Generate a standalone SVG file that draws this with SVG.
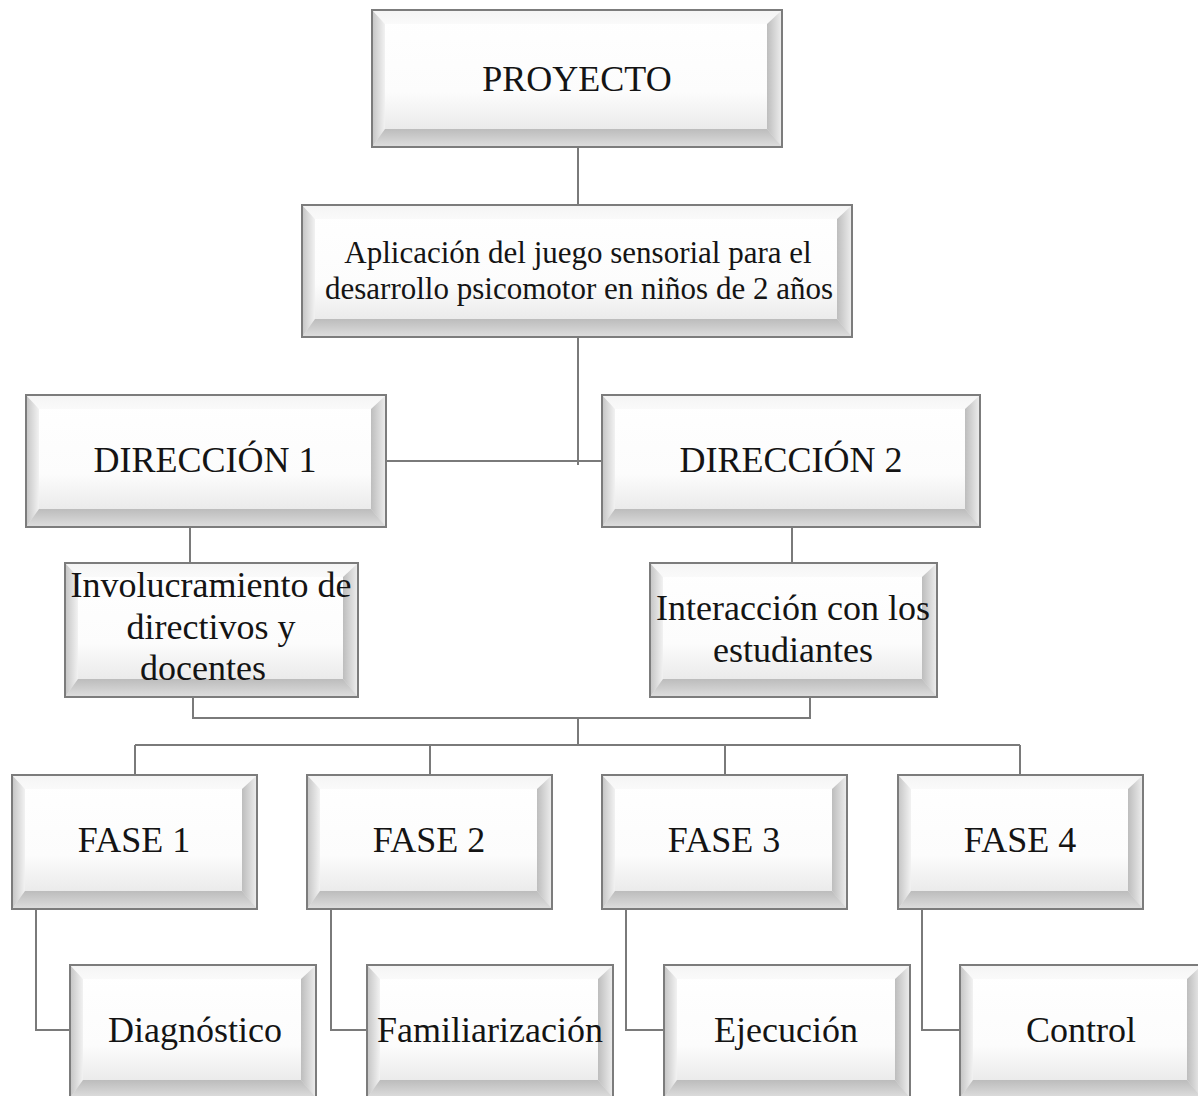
<svg xmlns="http://www.w3.org/2000/svg" width="1198" height="1096" viewBox="0 0 1198 1096">
<defs>
<linearGradient id="gFace" x1="0" y1="0" x2="0" y2="1">
<stop offset="0" stop-color="#ffffff"/>
<stop offset="0.6" stop-color="#fcfcfc"/>
<stop offset="1" stop-color="#e2e2e2"/>
</linearGradient>
<linearGradient id="gTop" x1="0" y1="0" x2="0" y2="1">
<stop offset="0" stop-color="#f4f4f4"/>
<stop offset="1" stop-color="#fafafa"/>
</linearGradient>
<linearGradient id="gLeft" x1="0" y1="0" x2="1" y2="0">
<stop offset="0" stop-color="#c4c4c4"/>
<stop offset="1" stop-color="#f2f2f2"/>
</linearGradient>
<linearGradient id="gRight" x1="0" y1="0" x2="1" y2="0">
<stop offset="0" stop-color="#bdbdbd"/>
<stop offset="1" stop-color="#eeeeee"/>
</linearGradient>
<linearGradient id="gBottom" x1="0" y1="0" x2="0" y2="1">
<stop offset="0" stop-color="#bcbcbc"/>
<stop offset="1" stop-color="#dedede"/>
</linearGradient>
</defs>
<style>
.face{fill:url(#gFace)}
.bt{fill:url(#gTop)}
.bl{fill:url(#gLeft)}
.br{fill:url(#gRight)}
.bb{fill:url(#gBottom)}
.frame{fill:none;stroke:#7c7c7c;stroke-width:2}
.lbl{font-family:"Liberation Serif","Times New Roman",serif;fill:#141414;text-anchor:middle}
.big{font-size:36px}
.mid{font-size:31px}
.conn{fill:none;stroke:#7a7a7a;stroke-width:2}
</style>
<rect width="1198" height="1096" fill="#ffffff"/>

<g id="connectors">
<path class="conn" d="M578,147 V205"/>
<path class="conn" d="M578,337 V465"/>
<path class="conn" d="M386,461 H602"/>
<path class="conn" d="M190,527 V563"/>
<path class="conn" d="M792,527 V563"/>
<path class="conn" d="M193,697 V718 H810 V697"/>
<path class="conn" d="M578,718 V745"/>
<path class="conn" d="M135,745 H1020"/>
<path class="conn" d="M135,745 V775 M430,745 V775 M725,745 V775 M1020,745 V775"/>
<path class="conn" d="M36,909 V1030 H70"/>
<path class="conn" d="M331,909 V1030 H367"/>
<path class="conn" d="M626,909 V1030 H664"/>
<path class="conn" d="M922,909 V1030 H960"/>
</g>

<g id="proyecto">
<rect class="face" x="372" y="10" width="410" height="137"/>
<polygon class="bt" points="372,10 782,10 767,24 385,24"/>
<polygon class="bl" points="372,10 385,24 385,129 372,147"/>
<polygon class="br" points="767,24 782,10 782,147 767,129"/>
<polygon class="bb" points="385,129 767,129 782,147 372,147"/>
<rect class="frame" x="372" y="10" width="410" height="137"/>
<text class="lbl big" x="577" y="91">PROYECTO</text>
</g>

<g id="aplicacion">
<rect class="face" x="302" y="205" width="550" height="132"/>
<polygon class="bt" points="302,205 852,205 837,219 315,219"/>
<polygon class="bl" points="302,205 315,219 315,319 302,337"/>
<polygon class="br" points="837,219 852,205 852,337 837,319"/>
<polygon class="bb" points="315,319 837,319 852,337 302,337"/>
<rect class="frame" x="302" y="205" width="550" height="132"/>
<text class="lbl mid" x="578" y="263">Aplicación del juego sensorial para el</text>
<text class="lbl mid" x="579" y="299">desarrollo psicomotor en niños de 2 años</text>
</g>

<g id="direccion1">
<rect class="face" x="26" y="395" width="360" height="132"/>
<polygon class="bt" points="26,395 386,395 371,409 39,409"/>
<polygon class="bl" points="26,395 39,409 39,509 26,527"/>
<polygon class="br" points="371,409 386,395 386,527 371,509"/>
<polygon class="bb" points="39,509 371,509 386,527 26,527"/>
<rect class="frame" x="26" y="395" width="360" height="132"/>
<text class="lbl big" x="205" y="472">DIRECCIÓN 1</text>
</g>

<g id="direccion2">
<rect class="face" x="602" y="395" width="378" height="132"/>
<polygon class="bt" points="602,395 980,395 965,409 615,409"/>
<polygon class="bl" points="602,395 615,409 615,509 602,527"/>
<polygon class="br" points="965,409 980,395 980,527 965,509"/>
<polygon class="bb" points="615,509 965,509 980,527 602,527"/>
<rect class="frame" x="602" y="395" width="378" height="132"/>
<text class="lbl big" x="791" y="472">DIRECCIÓN 2</text>
</g>

<g id="involucramiento">
<rect class="face" x="65" y="563" width="293" height="134"/>
<polygon class="bt" points="65,563 358,563 343,577 78,577"/>
<polygon class="bl" points="65,563 78,577 78,679 65,697"/>
<polygon class="br" points="343,577 358,563 358,697 343,679"/>
<polygon class="bb" points="78,679 343,679 358,697 65,697"/>
<rect class="frame" x="65" y="563" width="293" height="134"/>
<text class="lbl big" x="211" y="597">Involucramiento de</text>
<text class="lbl big" x="211" y="639">directivos y</text>
<text class="lbl big" x="203" y="680">docentes</text>
</g>

<g id="interaccion">
<rect class="face" x="650" y="563" width="287" height="134"/>
<polygon class="bt" points="650,563 937,563 922,577 663,577"/>
<polygon class="bl" points="650,563 663,577 663,679 650,697"/>
<polygon class="br" points="922,577 937,563 937,697 922,679"/>
<polygon class="bb" points="663,679 922,679 937,697 650,697"/>
<rect class="frame" x="650" y="563" width="287" height="134"/>
<text class="lbl big" x="793" y="620">Interacción con los</text>
<text class="lbl big" x="793" y="662">estudiantes</text>
</g>

<g id="fase1">
<rect class="face" x="12" y="775" width="245" height="134"/>
<polygon class="bt" points="12,775 257,775 242,789 25,789"/>
<polygon class="bl" points="12,775 25,789 25,891 12,909"/>
<polygon class="br" points="242,789 257,775 257,909 242,891"/>
<polygon class="bb" points="25,891 242,891 257,909 12,909"/>
<rect class="frame" x="12" y="775" width="245" height="134"/>
<text class="lbl big" x="134" y="852">FASE 1</text>
</g>

<g id="fase2">
<rect class="face" x="307" y="775" width="245" height="134"/>
<polygon class="bt" points="307,775 552,775 537,789 320,789"/>
<polygon class="bl" points="307,775 320,789 320,891 307,909"/>
<polygon class="br" points="537,789 552,775 552,909 537,891"/>
<polygon class="bb" points="320,891 537,891 552,909 307,909"/>
<rect class="frame" x="307" y="775" width="245" height="134"/>
<text class="lbl big" x="429" y="852">FASE 2</text>
</g>

<g id="fase3">
<rect class="face" x="602" y="775" width="245" height="134"/>
<polygon class="bt" points="602,775 847,775 832,789 615,789"/>
<polygon class="bl" points="602,775 615,789 615,891 602,909"/>
<polygon class="br" points="832,789 847,775 847,909 832,891"/>
<polygon class="bb" points="615,891 832,891 847,909 602,909"/>
<rect class="frame" x="602" y="775" width="245" height="134"/>
<text class="lbl big" x="724" y="852">FASE 3</text>
</g>

<g id="fase4">
<rect class="face" x="898" y="775" width="245" height="134"/>
<polygon class="bt" points="898,775 1143,775 1128,789 911,789"/>
<polygon class="bl" points="898,775 911,789 911,891 898,909"/>
<polygon class="br" points="1128,789 1143,775 1143,909 1128,891"/>
<polygon class="bb" points="911,891 1128,891 1143,909 898,909"/>
<rect class="frame" x="898" y="775" width="245" height="134"/>
<text class="lbl big" x="1020" y="852">FASE 4</text>
</g>

<g id="diagnostico">
<rect class="face" x="70" y="965" width="246" height="133"/>
<polygon class="bt" points="70,965 316,965 301,979 83,979"/>
<polygon class="bl" points="70,965 83,979 83,1080 70,1098"/>
<polygon class="br" points="301,979 316,965 316,1098 301,1080"/>
<polygon class="bb" points="83,1080 301,1080 316,1098 70,1098"/>
<rect class="frame" x="70" y="965" width="246" height="133"/>
<text class="lbl big" x="195" y="1042">Diagnóstico</text>
</g>

<g id="familiarizacion">
<rect class="face" x="367" y="965" width="246" height="133"/>
<polygon class="bt" points="367,965 613,965 598,979 380,979"/>
<polygon class="bl" points="367,965 380,979 380,1080 367,1098"/>
<polygon class="br" points="598,979 613,965 613,1098 598,1080"/>
<polygon class="bb" points="380,1080 598,1080 613,1098 367,1098"/>
<rect class="frame" x="367" y="965" width="246" height="133"/>
<text class="lbl big" x="490" y="1042">Familiarización</text>
</g>

<g id="ejecucion">
<rect class="face" x="664" y="965" width="246" height="133"/>
<polygon class="bt" points="664,965 910,965 895,979 677,979"/>
<polygon class="bl" points="664,965 677,979 677,1080 664,1098"/>
<polygon class="br" points="895,979 910,965 910,1098 895,1080"/>
<polygon class="bb" points="677,1080 895,1080 910,1098 664,1098"/>
<rect class="frame" x="664" y="965" width="246" height="133"/>
<text class="lbl big" x="786" y="1042">Ejecución</text>
</g>

<g id="control">
<rect class="face" x="960" y="965" width="242" height="133"/>
<polygon class="bt" points="960,965 1202,965 1187,979 973,979"/>
<polygon class="bl" points="960,965 973,979 973,1080 960,1098"/>
<polygon class="br" points="1187,979 1202,965 1202,1098 1187,1080"/>
<polygon class="bb" points="973,1080 1187,1080 1202,1098 960,1098"/>
<rect class="frame" x="960" y="965" width="242" height="133"/>
<text class="lbl big" x="1081" y="1042">Control</text>
</g>
</svg>
